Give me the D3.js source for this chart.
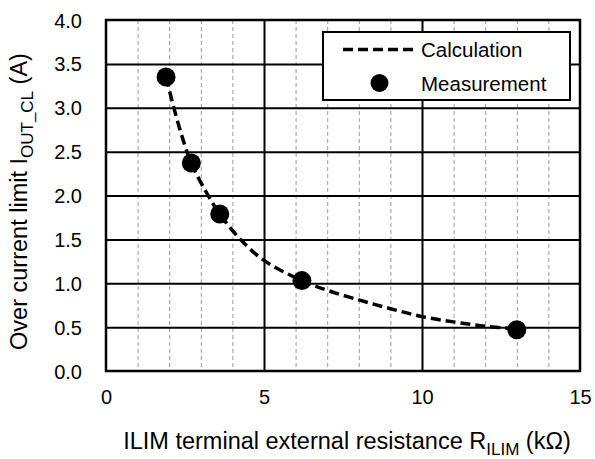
<!DOCTYPE html>
<html><head><meta charset="utf-8">
<script src="https://cdn.jsdelivr.net/npm/d3@7"></script>
<style>
html,body{margin:0;padding:0;background:#fff;}
svg text{font-family:"Liberation Sans",Arial,sans-serif;fill:#000;}
</style></head>
<body><svg id="c" width="595" height="459"></svg>
<script>
const measR = [1.9, 2.7, 3.6, 6.2, 13.0];
const measI = [3.35, 2.37, 1.79, 1.03, 0.47];
const calcR = [1.9, 2.3, 2.7, 3.2, 3.6, 4.2, 5, 6.2, 7, 8, 9, 10, 11, 12, 13];
const calcI = [3.35, 2.80, 2.37, 2.02, 1.79, 1.52, 1.26, 1.03, 0.92, 0.81, 0.71, 0.62, 0.56, 0.51, 0.48];
const xTicks = [0, 5, 10, 15];
const xMinor = [1, 2, 3, 4, 6, 7, 8, 9, 11, 12, 13, 14];
const yTicks = [0, 0.5, 1, 1.5, 2, 2.5, 3, 3.5, 4];
const legendLabels = ["Calculation", "Measurement"];

const svg = d3.select("#c");
const L = 106, R = 580, T = 20, B = 371;
const x = d3.scaleLinear().domain([0, 15]).range([L, R]);
const y = d3.scaleLinear().domain([0, 4]).range([B, T]);

// minor dashed vertical grid
svg.append("g").attr("transform", `translate(0,${T})`)
  .call(d3.axisBottom(x).tickValues(xMinor).tickSize(B - T).tickFormat(""))
  .call(g => g.select(".domain").remove())
  .call(g => g.selectAll("line").attr("stroke", "#9a9a9a").attr("stroke-width", 1).attr("stroke-dasharray", "4,3"));
// major vertical grid
svg.append("g").attr("transform", `translate(0,${T})`)
  .call(d3.axisBottom(x).tickValues([5, 10]).tickSize(B - T).tickFormat(""))
  .call(g => g.select(".domain").remove())
  .call(g => g.selectAll("line").attr("stroke", "#000").attr("stroke-width", 2));
// horizontal grid
svg.append("g").attr("transform", `translate(${L},0)`)
  .call(d3.axisRight(y).tickValues(yTicks.slice(1, -1)).tickSize(R - L).tickFormat(""))
  .call(g => g.select(".domain").remove())
  .call(g => g.selectAll("line").attr("stroke", "#000").attr("stroke-width", 2));

// frame
svg.append("rect").attr("x", L).attr("y", T).attr("width", R - L).attr("height", B - T)
  .attr("fill", "none").attr("stroke", "#000").attr("stroke-width", 2.5);

// tick labels
svg.append("g").attr("transform", `translate(0,${B})`)
  .call(d3.axisBottom(x).tickValues(xTicks).tickSize(0).tickPadding(0).tickFormat(d3.format("d")))
  .call(g => g.select(".domain").remove())
  .call(g => g.selectAll("text").attr("font-size", 20).attr("dy", null).attr("y", 33)
    .style("font-family", '"Liberation Sans",Arial,sans-serif').attr("fill", "#000"));
svg.append("g").attr("transform", `translate(82,0)`)
  .call(d3.axisLeft(y).tickValues(yTicks).tickSize(0).tickPadding(0).tickFormat(d3.format(".1f")))
  .call(g => g.select(".domain").remove())
  .call(g => g.selectAll("text").attr("font-size", 20).attr("dy", "0.35em")
    .style("font-family", '"Liberation Sans",Arial,sans-serif').attr("fill", "#000"));

// calculation line
const pts = calcR.map((r, i) => [r, calcI[i]]);
svg.append("path").datum(pts)
  .attr("d", d3.line().x(d => x(d[0])).y(d => y(d[1])).curve(d3.curveCatmullRom.alpha(0.5)))
  .attr("fill", "none").attr("stroke", "#000").attr("stroke-width", 3.5).attr("stroke-dasharray", "10,5");

// measurement points
svg.append("g").selectAll("circle").data(measR.map((r, i) => [r, measI[i]])).join("circle")
  .attr("cx", d => x(d[0])).attr("cy", d => y(d[1])).attr("r", 9.5).attr("fill", "#000");

// legend
const lg = svg.append("g");
lg.append("rect").attr("x", 323).attr("y", 32).attr("width", 247).attr("height", 68)
  .attr("fill", "#fff").attr("stroke", "#000").attr("stroke-width", 2);
lg.append("line").attr("x1", 343).attr("x2", 416).attr("y1", 49.5).attr("y2", 49.5)
  .attr("stroke", "#000").attr("stroke-width", 3.5).attr("stroke-dasharray", "10,5");
lg.append("circle").attr("cx", 379.5).attr("cy", 83).attr("r", 9).attr("fill", "#000");
lg.selectAll("text.lt").data(legendLabels).join("text").attr("class", "lt")
  .attr("x", 421).attr("y", (d, i) => 56.5 + i * 34).attr("font-size", 20.5).text(d => d);

// axis titles
const xt = svg.append("text").attr("x", 347).attr("y", 449).attr("text-anchor", "middle").attr("font-size", 23.5);
xt.append("tspan").text("ILIM terminal external resistance R");
xt.append("tspan").attr("font-size", 17).attr("dy", 6).text("ILIM");
xt.append("tspan").attr("dy", -6).text(" (kΩ)");

const yt = svg.append("text").attr("transform", "translate(27,201.5) rotate(-90)").attr("text-anchor", "middle").attr("font-size", 23.5);
yt.append("tspan").text("Over current limit I");
yt.append("tspan").attr("font-size", 17).attr("dy", 6).text("OUT_CL");
yt.append("tspan").attr("dy", -6).text(" (A)");
</script></body></html>
